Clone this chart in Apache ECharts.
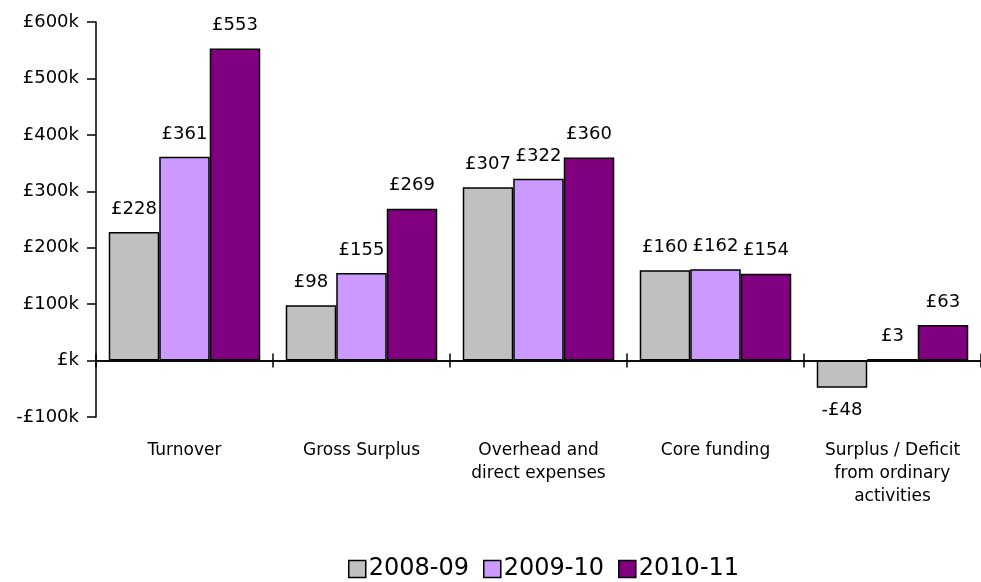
<!DOCTYPE html>
<html>
<head>
<meta charset="utf-8">
<script src="https://cdn.jsdelivr.net/npm/echarts@6/dist/echarts.min.js"></script>
<style>
  html, body { margin: 0; padding: 0; background: #fff; }
  #chart { width: 981px; height: 582px; }
</style>
</head>
<body>
<div id="chart"></div>
<script>
// Financial summary, values in £ thousands
const categories = [
  'Turnover',
  'Gross Surplus',
  'Overhead and\ndirect expenses',
  'Core funding',
  'Surplus / Deficit\nfrom ordinary\nactivities'
];
const years = ['2008-09', '2009-10', '2010-11'];
const values0809 = [228, 98, 307, 160, -48];
const values0910 = [361, 155, 322, 162, 3];
const values1011 = [553, 269, 360, 154, 63];
const yTicks = { min: -100, max: 600, step: 100 };
const colors = ['#C0C0C0', '#CC99FF', '#800080'];

const FONT = 'DejaVu Sans';
const seriesValues = [values0809, values0910, values1011];

function money(v) {
  return v < 0 ? '-£' + Math.abs(v) : '£' + v;
}

// two identical grids: the second one only carries the upper half of the
// crossing category ticks on the zero line
const gridBox = { left: 96, top: 22, width: 893, bottom: 165, containLabel: false };
const axisStroke = { color: '#000', width: 1.5 };

const chart = echarts.init(document.getElementById('chart'));
chart.setOption({
  animation: false,
  backgroundColor: '#ffffff',
  textStyle: { fontFamily: FONT },
  grid: [Object.assign({}, gridBox), Object.assign({}, gridBox)],
  legend: {
    top: 552,
    left: 343,
    itemWidth: 17,
    itemHeight: 17,
    itemGap: 14,
    icon: 'rect',
    textStyle: { fontFamily: FONT, fontSize: 24, color: '#000', padding: [0, 0, 0, -2] },
    data: years.map((y, i) => ({
      name: y,
      itemStyle: { color: colors[i], borderColor: '#000', borderWidth: 1.5 }
    }))
  },
  xAxis: [
    {
      type: 'category',
      gridIndex: 0,
      data: categories,
      position: 'bottom',
      axisLine: { onZero: true, lineStyle: axisStroke },
      axisTick: { show: true, inside: false, length: 7, lineStyle: axisStroke },
      axisLabel: {
        margin: 22,
        interval: 0,
        fontFamily: FONT,
        fontSize: 17,
        color: '#000',
        lineHeight: 23
      },
      splitLine: { show: false }
    },
    {
      type: 'category',
      gridIndex: 1,
      data: categories,
      position: 'bottom',
      axisLine: { onZero: true, lineStyle: axisStroke },
      axisTick: { show: true, inside: true, length: 7, lineStyle: axisStroke },
      axisLabel: { show: false },
      splitLine: { show: false }
    }
  ],
  yAxis: [
    {
      type: 'value',
      gridIndex: 0,
      min: yTicks.min,
      max: yTicks.max,
      interval: yTicks.step,
      axisLine: { show: true, lineStyle: axisStroke },
      axisTick: { show: true, length: 9, lineStyle: axisStroke },
      axisLabel: {
        margin: 17,
        fontFamily: FONT,
        fontSize: 18,
        color: '#000',
        formatter: v => (v < 0 ? '-£' + Math.abs(v) : '£' + (v === 0 ? '' : v)) + 'k'
      },
      splitLine: { show: false }
    },
    {
      type: 'value',
      gridIndex: 1,
      min: yTicks.min,
      max: yTicks.max,
      interval: yTicks.step,
      axisLine: { show: false },
      axisTick: { show: false },
      axisLabel: { show: false },
      splitLine: { show: false }
    }
  ],
  series: years.map((y, i) => ({
    name: y,
    type: 'bar',
    xAxisIndex: 0,
    yAxisIndex: 0,
    // negative values carry their label beneath the bar
    data: seriesValues[i].map(v => v < 0 ? { value: v, label: { position: 'bottom' } } : v),
    barGap: '0%',
    barCategoryGap: '14.4%',
    itemStyle: { color: colors[i], borderColor: '#000', borderWidth: 1.5 },
    label: {
      show: true,
      position: 'top',
      distance: 14,
      fontFamily: FONT,
      fontSize: 18,
      color: '#000',
      formatter: p => money(p.value)
    }
  }))
});
</script>
</body>
</html>
